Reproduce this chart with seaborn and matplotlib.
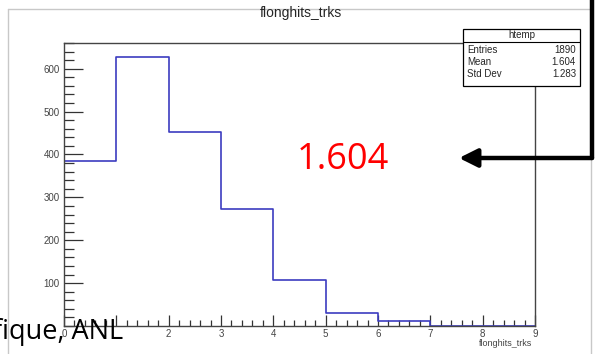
import numpy as np
import pandas as pd
import seaborn as sns
import matplotlib.pyplot as plt
from matplotlib.lines import Line2D
from matplotlib.ticker import MultipleLocator

# histogram contents (bins of width 1 from 0 to 9)
bin_edges = [0, 1, 2, 3, 4, 5, 6, 7, 8, 9]
bin_counts = [385, 628, 453, 272, 108, 30, 12, 0, 0]
stat_names = ['Entries', 'Mean', 'Std Dev']
stat_values = ['1890', '1.604', '1.283']
var_name = 'flonghits_trks'

df = pd.DataFrame({'x': np.array(bin_edges[:-1]) + 0.5, 'n': bin_counts})

sns.set_style('white')
plt.rcParams['font.family'] = ['Liberation Sans', 'DejaVu Sans']

fig = plt.figure(figsize=(6.03, 3.54), dpi=100)
W, H = 603, 354
ax = fig.add_axes([64 / W, 1 - 326 / H, (535 - 64) / W, (326 - 43) / H])

sns.histplot(data=df, x='x', weights='n', bins=bin_edges, element='step',
             fill=False, color='#3c3cc0', linewidth=1.2, ax=ax)

ax.set_xlim(0, 9)
ax.set_ylim(0, 660)
ax.xaxis.set_major_locator(MultipleLocator(1))
ax.xaxis.set_minor_locator(MultipleLocator(0.2))
ax.yaxis.set_major_locator(MultipleLocator(100))
ax.yaxis.set_minor_locator(MultipleLocator(20))
ax.tick_params(axis='both', which='both', direction='in', colors='#333333',
               labelsize=7, labelcolor='#444444', left=True, bottom=True)
ax.tick_params(axis='y', which='major', length=14, width=0.9, pad=3)
ax.tick_params(axis='y', which='minor', length=7, width=0.9)
ax.tick_params(axis='x', which='major', length=8, width=0.9, pad=2)
ax.tick_params(axis='x', which='minor', length=4, width=0.9)
ax.set_xticks(range(0, 10))
ax.set_xticklabels(['0', '', '2', '3', '4', '5', '6', '7', '8', '9'])
ax.set_yticks(range(100, 700, 100))
ax.set_xlabel('')
ax.set_ylabel('')
for s in ax.spines.values():
    s.set_color('#444444')
    s.set_linewidth(1.0)

# titles
fig.text(301 / W, 1 - 13 / H, var_name, ha='center', va='center', fontsize=10)
fig.text(532 / W, 1 - 344 / H, var_name, ha='right', va='center', fontsize=6.5,
         color='#444444')

# stats box
bx0, bx1, by0, by1 = 463, 580, 29, 86
fig.patches.append(plt.Rectangle((bx0 / W, 1 - by1 / H), (bx1 - bx0) / W, (by1 - by0) / H,
                                 transform=fig.transFigure, facecolor='white',
                                 edgecolor='black', linewidth=0.9, zorder=5))
fig.add_artist(Line2D([bx0 / W, bx1 / W], [1 - 42 / H, 1 - 42 / H], color='black', lw=0.8, zorder=6))
fig.text((bx0 + bx1) / 2 / W, 1 - 35.5 / H, 'htemp', ha='center', va='center', fontsize=7, zorder=7)
for i, (nm, val) in enumerate(zip(stat_names, stat_values)):
    yy = 1 - (50 + i * 12) / H
    fig.text((bx0 + 4) / W, yy, nm, ha='left', va='center', fontsize=7, zorder=7)
    fig.text((bx1 - 4) / W, yy, val, ha='right', va='center', fontsize=7, zorder=7)

# canvas border (light grey)
fig.add_artist(Line2D([8 / W, 8 / W], [0, 1 - 9 / H], color='#c8c8c8', lw=1))
fig.add_artist(Line2D([8 / W, 591 / W], [1 - 9 / H, 1 - 9 / H], color='#c8c8c8', lw=1))
fig.add_artist(Line2D([591 / W, 591 / W], [0, 1 - 9 / H], color='#c8c8c8', lw=1))

# annotation arrow
fig.add_artist(Line2D([592 / W, 592 / W], [1, 1 - 158 / H], color='black', lw=3.2, zorder=8))
fig.add_artist(Line2D([592 / W, 475 / W], [1 - 158 / H, 1 - 158 / H], color='black', lw=3.2, zorder=8))
ax.annotate('', xy=(459 / W, 1 - 158 / H), xytext=(478 / W, 1 - 158 / H),
            xycoords='figure fraction', textcoords='figure fraction',
            arrowprops=dict(arrowstyle='-|>,head_length=1.1,head_width=0.55',
                            color='black', lw=3.2, shrinkA=0, shrinkB=0))

fig.text(343 / W, 1 - 160 / H, '1.604', ha='center', va='center', fontsize=26,
         color='#ff0000', family=['Open Sans', 'DejaVu Sans'])
fig.text(-7 / W, 1 - 339 / H, 'fique, ANL', ha='left', va='baseline', fontsize=19.5,
         color='black', family=['Open Sans', 'DejaVu Sans'], zorder=9)

fig.savefig('out.png', dpi=100)
